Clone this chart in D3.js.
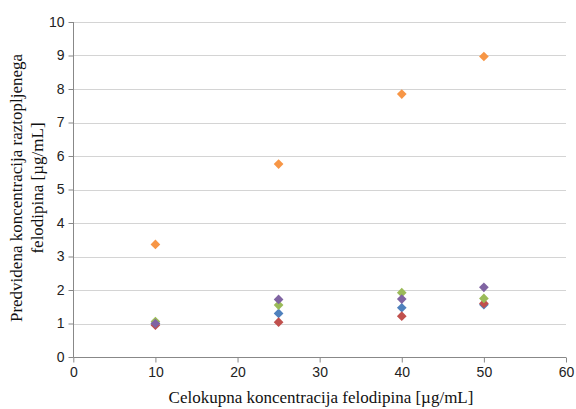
<!DOCTYPE html>
<html><head><meta charset="utf-8">
<script src="https://cdn.jsdelivr.net/npm/d3@7"></script>
<style>body{margin:0;background:#fff}</style>
</head><body>
<svg id="c" width="576" height="409"></svg>
<script>
const xValues = [10, 25, 40, 50];
const seriesNames = ["blue", "red", "green", "purple", "orange"];
const seriesColors = ["#4F81BD", "#C0504D", "#9BBB59", "#8064A2", "#F79646"];
const blueValues = [1.00, 1.30, 1.47, 1.56];
const redValues = [0.95, 1.04, 1.22, 1.60];
const greenValues = [1.06, 1.55, 1.92, 1.75];
const purpleValues = [1.00, 1.72, 1.73, 2.08];
const orangeValues = [3.36, 5.76, 7.85, 8.97];
const xTicks = [0, 10, 20, 30, 40, 50, 60];
const yTicks = [0, 1, 2, 3, 4, 5, 6, 7, 8, 9, 10];
const xTitle = "Celokupna koncentracija felodipina [µg/mL]";
const yTitleLines = ["Predvidena koncentracija raztopljenega", "felodipina [µg/mL]"];

const allSeries = [blueValues, redValues, greenValues, purpleValues, orangeValues];
const svg = d3.select("#c");
const m = {l: 73.3, r: 566, t: 22, b: 357};
const x = d3.scaleLinear().domain([0, 60]).range([m.l, m.r]);
const y = d3.scaleLinear().domain([0, 10]).range([m.b, m.t]);

// gridlines
svg.append("g").selectAll("line").data(yTicks.filter(d => d > 0)).join("line")
  .attr("x1", m.l).attr("x2", m.r)
  .attr("y1", d => Math.round(y(d)) + 0.5).attr("y2", d => Math.round(y(d)) + 0.5)
  .attr("stroke", "#d4d4d4").attr("stroke-width", 1);

const yAxis = svg.append("g").attr("transform", `translate(${Math.round(m.l)+0.5},0)`)
  .call(d3.axisLeft(y).tickValues(yTicks).tickSize(5).tickPadding(4).tickFormat(d3.format("d")));
const xAxis = svg.append("g").attr("transform", `translate(0,${Math.round(m.b)+0.5})`)
  .call(d3.axisBottom(x).tickValues(xTicks).tickSize(5).tickPadding(5).tickFormat(d3.format("d")));
[yAxis, xAxis].forEach(a => {
  a.selectAll(".domain").attr("stroke", "#888");
  a.selectAll(".tick line").attr("stroke", "#888");
  a.selectAll("text").attr("font-family", "Liberation Sans, Arial, sans-serif")
    .attr("font-size", 14).attr("fill", "#222");
});
yAxis.select(".domain").attr("d", `M0,${m.b}V${m.t}`);
xAxis.select(".domain").attr("d", `M${m.l},0H${m.r}`);

// points
const sym = d3.symbol().type(d3.symbolDiamond2).size(60);
allSeries.forEach((vals, i) => {
  svg.append("g").selectAll("path").data(vals).join("path")
    .attr("d", sym)
    .attr("transform", (d, j) => `translate(${x(xValues[j])},${y(d)})`)
    .attr("fill", seriesColors[i]);
});

// titles
svg.append("text").attr("x", 321).attr("y", 403)
  .attr("text-anchor", "middle").attr("font-family", "Liberation Serif, Times New Roman, serif")
  .attr("font-size", 17).attr("fill", "#111").text(xTitle);
const yt = svg.append("text").attr("transform", "translate(0,188) rotate(-90)")
  .attr("text-anchor", "middle").attr("font-family", "Liberation Serif, Times New Roman, serif")
  .attr("font-size", 17).attr("fill", "#111");
yTitleLines.forEach((t, i) => yt.append("tspan").attr("x", 0).attr("y", 22 + i * 21).text(t));
</script>
</body></html>
